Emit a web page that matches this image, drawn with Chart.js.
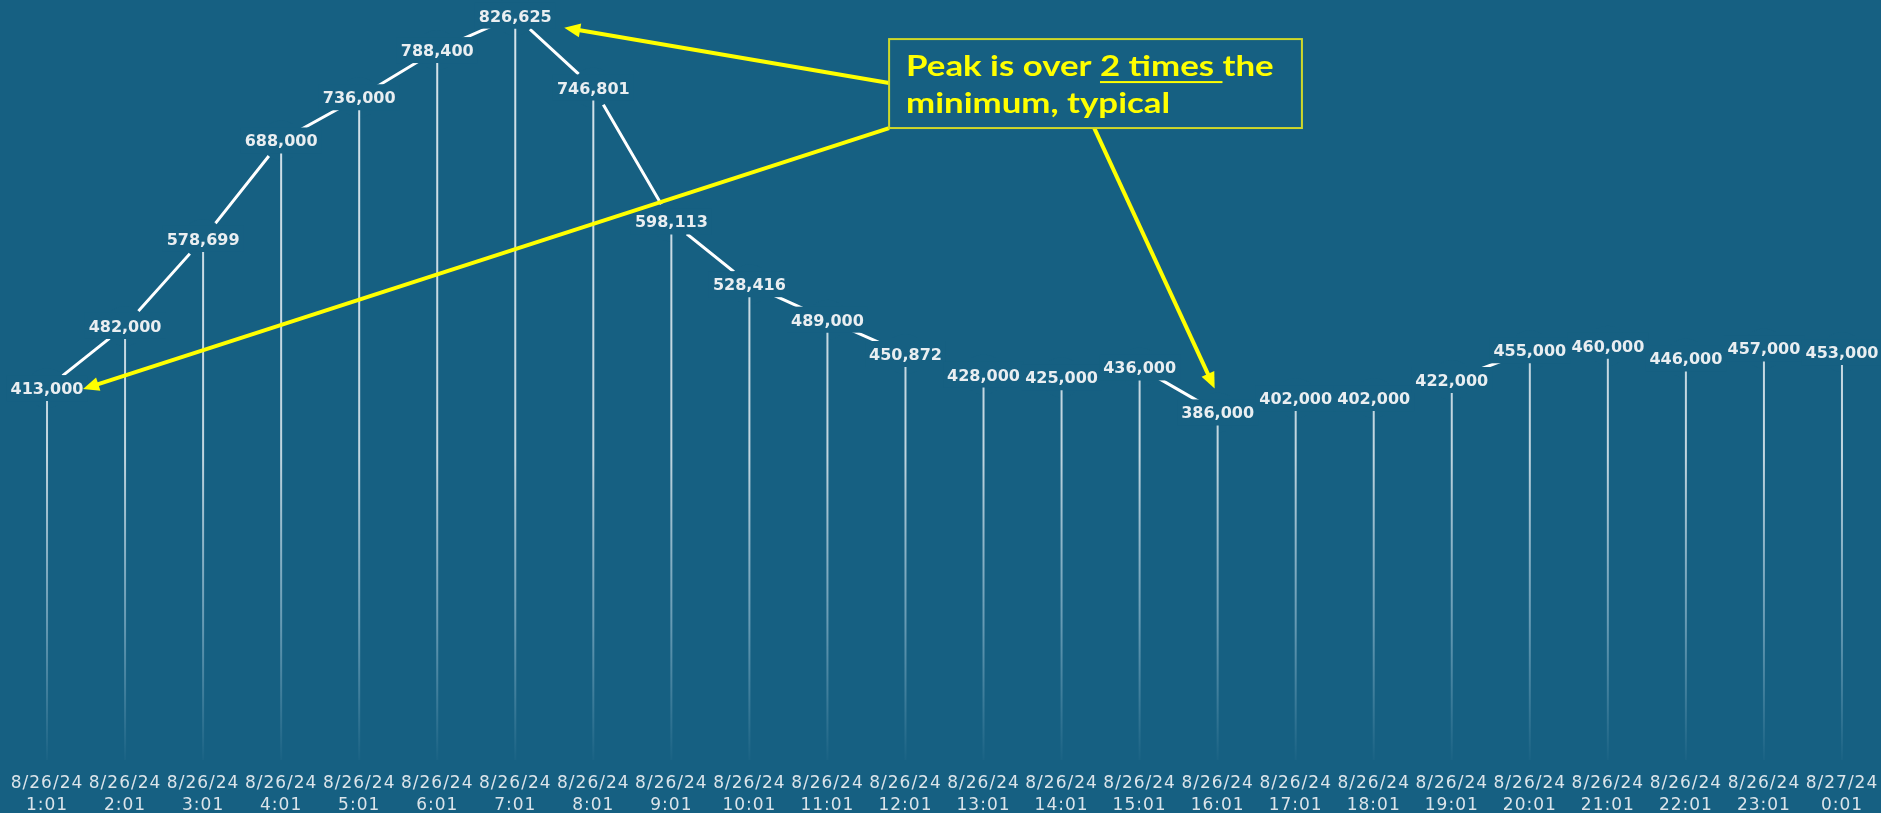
<!DOCTYPE html>
<html>
<head>
<meta charset="utf-8">
<script src="https://cdn.jsdelivr.net/npm/chart.js@4.4.1/dist/chart.umd.min.js"></script>
<style>
  html, body { margin: 0; padding: 0; background: #166082; }
  #wrap { width: 1881px; height: 813px; }
</style>
</head>
<body>
<div id="wrap"><canvas id="c" width="1881" height="813"></canvas></div>
<script>
// ---- data ----
const dateLabels = ['8/26/24','8/26/24','8/26/24','8/26/24','8/26/24','8/26/24','8/26/24','8/26/24',
  '8/26/24','8/26/24','8/26/24','8/26/24','8/26/24','8/26/24','8/26/24','8/26/24',
  '8/26/24','8/26/24','8/26/24','8/26/24','8/26/24','8/26/24','8/26/24','8/27/24'];
const timeLabels = ['1:01','2:01','3:01','4:01','5:01','6:01','7:01','8:01','9:01','10:01','11:01','12:01',
  '13:01','14:01','15:01','16:01','17:01','18:01','19:01','20:01','21:01','22:01','23:01','0:01'];
const hourlyValues = [413000, 482000, 578699, 688000, 736000, 788400, 826625, 746801, 598113, 528416,
  489000, 450872, 428000, 425000, 436000, 386000, 402000, 402000, 422000, 455000, 460000, 446000, 457000, 453000];

const noteLine1 = ['Peak is over ', '2 times ', 'the'];
const noteLine2 = 'minimum, typical';
const peakIndex = 6, firstIndex = 0, minIndex = 15;

// ---- styling ----
const BG = '#166082';
const labels = dateLabels.map((d, i) => [d, timeLabels[i]]);
const fmt = v => v.toLocaleString('en-US');

const bgPlugin = {
  id: 'bg',
  beforeDraw(chart) {
    const ctx = chart.ctx;
    ctx.save();
    ctx.fillStyle = BG;
    ctx.fillRect(0, 0, chart.width, chart.height);
    ctx.restore();
    ctx.letterSpacing = '1px';
  }
};

const overlayPlugin = {
  id: 'overlay',
  afterDatasetsDraw(chart) {
    const ctx = chart.ctx;
    const pts = chart.getDatasetMeta(0).data;
    const area = chart.chartArea;
    ctx.save();
    ctx.letterSpacing = '0px';
    // gaps in the line around each point
    ctx.fillStyle = BG;
    pts.forEach(p => { ctx.beginPath(); ctx.arc(p.x, p.y, 20, 0, Math.PI * 2); ctx.fill(); });
    ctx.font = 'bold 16px "DejaVu Sans"';
    pts.forEach((p, i) => {
      const w = ctx.measureText(fmt(hourlyValues[i])).width;
      ctx.fillRect(p.x - w / 2 - 4, p.y - 13, w + 8, 26);
    });
    // drop lines
    const g = ctx.createLinearGradient(0, area.top, 0, area.bottom);
    g.addColorStop(0, 'rgba(235,242,246,0.9)');
    g.addColorStop(0.6, 'rgba(235,242,246,0.8)');
    g.addColorStop(0.82, 'rgba(200,225,240,0.45)');
    g.addColorStop(1, 'rgba(200,225,240,0.02)');
    ctx.strokeStyle = g;
    ctx.lineWidth = 2;
    pts.forEach(p => {
      ctx.beginPath();
      ctx.moveTo(p.x, p.y + 13);
      ctx.lineTo(p.x, area.bottom);
      ctx.stroke();
    });
    // value labels
    ctx.fillStyle = '#e9eef1';
    ctx.textAlign = 'center';
    ctx.textBaseline = 'alphabetic';
    pts.forEach((p, i) => ctx.fillText(fmt(hourlyValues[i]), p.x, p.y + 6));
    ctx.restore();
  },
  afterDraw(chart) {
    const ctx = chart.ctx;
    const xs = chart.scales.x, ys = chart.scales.y;
    const pts = chart.getDatasetMeta(0).data;
    const left = xs.getPixelForValue(10.79), right = xs.getPixelForValue(16.08);
    const top = ys.getPixelForValue(800600), bottom = ys.getPixelForValue(701800);
    ctx.save();
    ctx.letterSpacing = '0px';
    const YEL = '#ffff00';
    ctx.strokeStyle = YEL; ctx.fillStyle = YEL; ctx.lineWidth = 4;
    function arrow(x0, y0, x1, y1) {
      const a = Math.atan2(y1 - y0, x1 - x0), L = 16, W = 7;
      const c = Math.cos(a), s = Math.sin(a);
      ctx.beginPath(); ctx.moveTo(x0, y0); ctx.lineTo(x1 - L * 0.8 * c, y1 - L * 0.8 * s); ctx.stroke();
      ctx.beginPath();
      ctx.moveTo(x1, y1);
      ctx.lineTo(x1 - L * c + W * s, y1 - L * s - W * c);
      ctx.lineTo(x1 - L * c - W * s, y1 - L * s + W * c);
      ctx.closePath(); ctx.fill();
    }
    const pk = pts[peakIndex], fp = pts[firstIndex], mn = pts[minIndex];
    arrow(left, top + 44, pk.x + 49, pk.y + 12);
    arrow(left, bottom, fp.x + 36, fp.y + 1);
    arrow(left + (right - left) * 0.497, bottom, mn.x - 3, mn.y - 24);
    // box
    ctx.fillStyle = BG;
    ctx.fillRect(left, top, right - left, bottom - top);
    ctx.strokeStyle = '#cfd829';
    ctx.lineWidth = 2;
    ctx.strokeRect(left, top, right - left, bottom - top);
    // text
    ctx.fillStyle = YEL;
    ctx.font = 'bold 29px Lato';
    ctx.textAlign = 'left';
    ctx.textBaseline = 'alphabetic';
    const sx = 1.2;
    ctx.translate(left + 17, top);
    ctx.scale(sx, 1);
    let x = 0;
    noteLine1.forEach((part, i) => {
      ctx.fillText(part, x, 37);
      const w = ctx.measureText(part).width;
      if (i === 1) { ctx.fillRect(x, 42, w, 2); }
      x += w;
    });
    ctx.fillText(noteLine2, 0, 74);
    ctx.restore();
  }
};

new Chart(document.getElementById('c'), {
  type: 'line',
  data: {
    labels: labels,
    datasets: [{
      data: hourlyValues,
      borderColor: '#ffffff',
      borderWidth: 3,
      pointRadius: 0,
      tension: 0,
      fill: false
    }]
  },
  options: {
    responsive: false,
    animation: false,
    layout: { padding: { left: 8, right: 0, top: 0, bottom: 0 } },
    plugins: { legend: { display: false }, tooltip: { enabled: false } },
    scales: {
      x: {
        type: 'category',
        offset: true,
        grid: { display: false, drawTicks: false },
        border: { display: false },
        ticks: {
          color: '#dbe4ea',
          font: { family: 'DejaVu Sans', size: 17, lineHeight: 1.28 },
          padding: 13,
          maxRotation: 0,
          minRotation: 0,
          autoSkip: false
        },
        afterFit(scale) { scale.height = 53; scale.paddingLeft = 0; scale.paddingRight = 0; }
      },
      y: { display: false, min: 0, max: 844000 }
    }
  },
  plugins: [bgPlugin, overlayPlugin]
});
</script>
</body>
</html>
